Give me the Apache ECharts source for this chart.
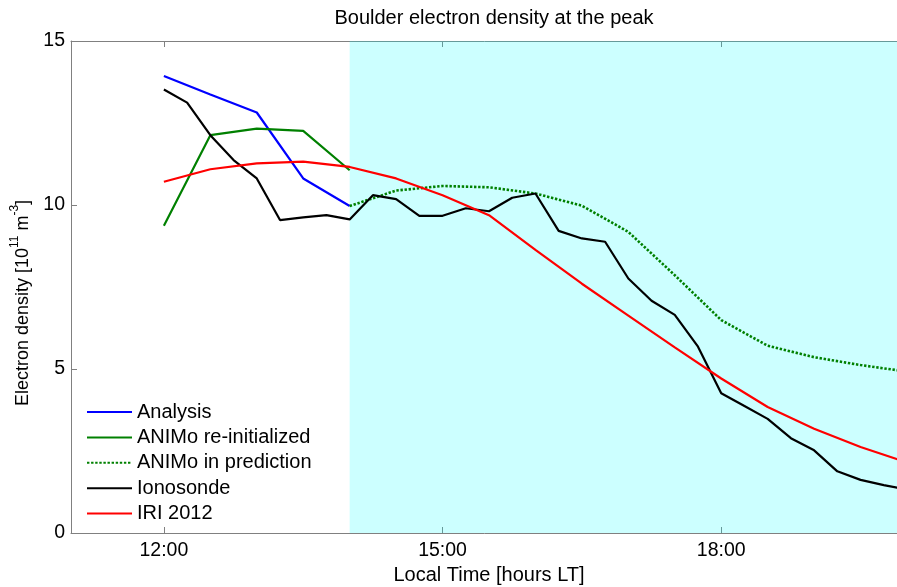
<!DOCTYPE html>
<html>
<head>
<meta charset="utf-8">
<script src="https://cdn.jsdelivr.net/npm/echarts@6/dist/echarts.min.js"></script>
<style>
  html, body { margin: 0; padding: 0; background: #fff; }
  #chart { width: 897px; height: 587px; }
</style>
</head>
<body>
<div id="chart"></div>
<script>
// Local times (hh:mm) and peak electron density [10^11 m^-3] for each source
const analysisTimes = ['12:00', '12:30', '13:00', '13:30', '14:00'];
const analysisValues = [13.93, 13.37, 12.82, 10.81, 9.97];

const reinitTimes = ['12:00', '12:30', '13:00', '13:30', '14:00'];
const reinitValues = [9.37, 12.13, 12.33, 12.26, 11.06];

const predictionTimes = ['14:00', '14:30', '15:00', '15:30', '16:00', '16:30', '17:00',
  '17:30', '18:00', '18:30', '19:00', '19:30', '20:00'];
const predictionValues = [9.97, 10.44, 10.58, 10.54, 10.35, 9.98, 9.18,
  7.86, 6.49, 5.71, 5.36, 5.12, 4.92];

const ionosondeTimes = ['12:00', '12:15', '12:30', '12:45', '13:00', '13:15', '13:30', '13:45',
  '14:00', '14:15', '14:30', '14:45', '15:00', '15:15', '15:30', '15:45',
  '16:00', '16:15', '16:30', '16:45', '17:00', '17:15', '17:30', '17:45',
  '18:00', '18:15', '18:30', '18:45', '19:00', '19:15', '19:30', '19:45', '20:00'];
const ionosondeValues = [13.52, 13.12, 12.13, 11.37, 10.81, 9.54, 9.62, 9.69,
  9.56, 10.30, 10.18, 9.67, 9.67, 9.90, 9.81, 10.22,
  10.35, 9.21, 8.98, 8.88, 7.76, 7.08, 6.65, 5.68,
  4.26, 3.87, 3.48, 2.89, 2.52, 1.88, 1.62, 1.46, 1.32];

const iriTimes = ['12:00', '12:30', '13:00', '13:30', '14:00', '14:30', '15:00', '15:30',
  '16:00', '16:30', '17:00', '17:30', '18:00', '18:30', '19:00', '19:30', '20:00'];
const iriValues = [10.71, 11.09, 11.27, 11.32, 11.16, 10.81, 10.30, 9.69,
  8.63, 7.60, 6.63, 5.66, 4.71, 3.84, 3.18, 2.62, 2.15];

// Prediction window (shaded)
const predictionWindow = ['14:00', '20:00'];

// Axis ticks
const xTickLabels = ['12:00', '15:00', '18:00'];
const yTicks = [0, 5, 10, 15];

const FONT = '"Liberation Sans", Arial, sans-serif';

function toHours(s) {
  const [h, m] = s.split(':').map(Number);
  return h + m / 60;
}
function fmtTime(v) {
  const h = Math.floor(v + 1e-9);
  const m = Math.round((v - h) * 60);
  return h + ':' + String(m).padStart(2, '0');
}
function pairs(times, values) {
  return times.map((t, i) => [toHours(t), values[i]]);
}

const xTickValues = xTickLabels.map(toHours);

const chart = echarts.init(document.getElementById('chart'), null, { renderer: 'canvas' });

const baseLine = (name, times, values, color, extra) => Object.assign({
  name: name,
  type: 'line',
  data: pairs(times, values),
  showSymbol: false,
  symbol: 'none',
  smooth: false,
  z: 3,
  lineStyle: { color: color, width: 2.2 },
  itemStyle: { color: color },
  emphasis: { disabled: true }
}, extra || {});

chart.setOption({
  animation: false,
  title: {
    text: 'Boulder electron density at the peak',
    left: 489,
    textAlign: 'center',
    top: 3,
    textStyle: { fontFamily: FONT, fontSize: 20, fontWeight: 'normal', color: '#000' }
  },
  // the plot box runs on past the right edge of the page (to 20:00)
  grid: { left: 71, top: 41, width: 836, height: 492, containLabel: false, outerBoundsMode: 'none' },
  legend: {
    orient: 'vertical',
    left: 81,
    top: 397,
    itemWidth: 45,
    itemHeight: 14,
    itemGap: 5.4,
    selectedMode: false,
    itemStyle: { opacity: 0 },
    textStyle: { fontFamily: FONT, fontSize: 20, color: '#000', lineHeight: 20 },
    data: ['Analysis', 'ANIMo re-initialized', 'ANIMo in prediction', 'Ionosonde', 'IRI 2012']
  },
  xAxis: [{
    type: 'value',
    min: 11,
    max: 20,
    position: 'bottom',
    name: 'Local Time [hours LT]',
    nameLocation: 'middle',
    nameGap: 29,
    nameTextStyle: { fontFamily: FONT, fontSize: 20, color: '#000' },
    splitLine: { show: false },
    axisLine: { show: true, lineStyle: { color: '#808080', width: 1 } },
    axisTick: { show: true, inside: true, length: 6, customValues: xTickValues, lineStyle: { color: '#808080' } },
    axisLabel: { show: true, customValues: xTickValues, margin: 8, formatter: fmtTime,
      fontFamily: FONT, fontSize: 19.5, color: '#000' }
  }, {
    type: 'value',
    min: 11,
    max: 20,
    position: 'top',
    splitLine: { show: false },
    axisLine: { show: true, lineStyle: { color: '#808080', width: 1 } },
    axisTick: { show: true, inside: true, length: 6, customValues: xTickValues, lineStyle: { color: '#808080' } },
    axisLabel: { show: false }
  }],
  yAxis: {
    type: 'value',
    min: 0,
    max: 15,
    interval: 5,
    name: '{a|Electron density [10}{s|11}{a| m}{s|-3}{a|]}',
    nameLocation: 'middle',
    nameGap: 30,
    nameRotate: 90,
    nameTextStyle: {
      fontFamily: FONT,
      color: '#000',
      padding: [0, 32, 0, 0],
      rich: {
        a: { fontFamily: FONT, fontSize: 18, color: '#000', lineHeight: 24, verticalAlign: 'bottom' },
        s: { fontFamily: FONT, fontSize: 12, color: '#000', lineHeight: 24, verticalAlign: 'top' }
      }
    },
    splitLine: { show: false },
    axisLine: { show: true, lineStyle: { color: '#808080', width: 1 } },
    axisTick: { show: true, inside: true, length: 6, customValues: yTicks, lineStyle: { color: '#808080' } },
    axisLabel: { margin: 6, fontFamily: FONT, fontSize: 19.5, color: '#000', customValues: yTicks }
  },
  series: [
    baseLine('Analysis', analysisTimes, analysisValues, '#0000ff'),
    baseLine('ANIMo re-initialized', reinitTimes, reinitValues, '#008000'),
    baseLine('ANIMo in prediction', predictionTimes, predictionValues, '#008000', {
      lineStyle: { color: '#008000', width: 2.6, type: [2.4, 1.7], cap: 'butt' }
    }),
    baseLine('Ionosonde', ionosondeTimes, ionosondeValues, '#000000'),
    baseLine('IRI 2012', iriTimes, iriValues, '#ff0000'),
    {
      name: 'window',
      type: 'line',
      data: [],
      z: 10,
      silent: true,
      markArea: {
        silent: true,
        itemStyle: { color: 'rgba(0,255,255,0.2)', borderWidth: 0 },
        data: [[{ xAxis: toHours(predictionWindow[0]) }, { xAxis: toHours(predictionWindow[1]) }]]
      }
    }
  ]
});
</script>
</body>
</html>
